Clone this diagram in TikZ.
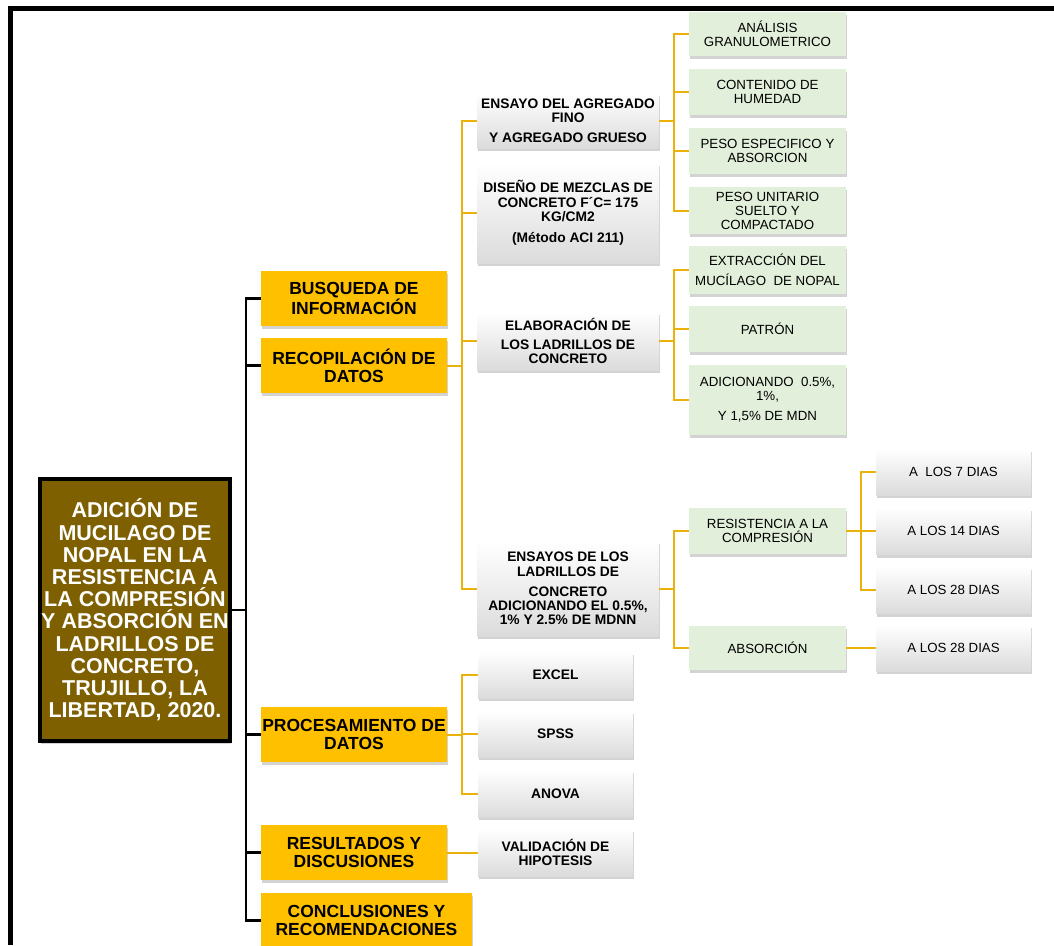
\documentclass[tikz,border=0pt]{standalone}
\usepackage{fontspec}
\setmainfont{Liberation Sans}
\usetikzlibrary{shadows}
\definecolor{naranja}{RGB}{255,192,0}
\definecolor{dorado}{RGB}{234,178,10}
\definecolor{verdeclaro}{RGB}{226,239,218}
\definecolor{cafe}{RGB}{127,96,0}
\tikzset{
  caja/.style={inner sep=1pt, align=center,
    drop shadow={shadow xshift=0.8pt, shadow yshift=-3pt, opacity=0.35}},
  raiz/.style={caja, draw=black, line width=4pt, fill=cafe, text=white,
    font=\bfseries\fontsize{21.5}{22.2}\selectfont,
    minimum width=190pt, minimum height=262pt},
  tema/.style={caja, fill=naranja, minimum width=186pt, minimum height=55pt,
    font=\bfseries\fontsize{17.5}{18.3}\selectfont},
  blanca/.style={caja, top color=white, bottom color=black!14,
    minimum width=155pt, font=\bfseries\fontsize{13.8}{14.2}\selectfont},
  ancha/.style={blanca, minimum width=182pt},
  verde/.style={caja, fill=verdeclaro, minimum width=157pt,
    font=\fontsize{13.3}{14}\selectfont},
  dia/.style={caja, top color=white, bottom color=black!14,
    minimum width=155pt, font=\fontsize{13.3}{14}\selectfont},
  negra/.style={draw=black, line width=2.5pt},
  oro/.style={draw=dorado, line width=2pt}
}
\begin{document}
\begin{tikzpicture}[x=1pt,y=-1pt]
  \useasboundingbox (0,0) rectangle (1054,945);

  % columnas de las lineas
  \coordinate (tk) at (246,0);
  \coordinate (g1) at (462,0);
  \coordinate (g2) at (674,0);
  \coordinate (g3) at (861,0);

  % titulo
  \node[raiz] (root) at (135,610) {ADICIÓN DE\\MUCILAGO DE\\NOPAL EN LA\\RESISTENCIA A\\LA COMPRESIÓN\\Y ABSORCIÓN EN\\LADRILLOS DE\\CONCRETO,\\TRUJILLO, LA\\LIBERTAD, 2020.};

  % etapas
  \node[tema] (busq) at (354,298.5) {BUSQUEDA DE\\INFORMACIÓN};
  \node[tema] (recop) at (354,365.5) {RECOPILACIÓN DE\\DATOS};
  \node[tema] (proc) at (354,734.5) {PROCESAMIENTO DE\\DATOS};
  \node[tema] (result) at (354,852.5) {RESULTADOS Y\\DISCUSIONES};
  \node[tema, minimum width=211pt] (concl) at (366.5,920.5) {CONCLUSIONES Y\\RECOMENDACIONES};

  % actividades
  \node[ancha, minimum height=55pt] (ensag) at (568,120.5) {ENSAYO DEL AGREGADO\\FINO\\[6pt]Y AGREGADO GRUESO};
  \node[ancha, minimum height=100pt] (diseno) at (568,213) {DISEÑO DE MEZCLAS DE\\CONCRETO F´C= 175\\KG/CM2\\[7pt](Método ACI 211)};
  \node[ancha, minimum height=58pt] (elab) at (568,341) {ELABORACIÓN DE\\[5pt]LOS LADRILLOS DE\\CONCRETO};
  \node[ancha, minimum height=95pt] (ensay) at (568,588.5) {ENSAYOS DE LOS\\LADRILLOS DE\\[6pt]CONCRETO\\ADICIONANDO EL 0.5\%,\\1\% Y 2.5\% DE MDNN};
  \node[blanca, minimum height=46pt] (excel) at (555.5,675) {EXCEL};
  \node[blanca, minimum height=46pt] (spss) at (555.5,734) {SPSS};
  \node[blanca, minimum height=47pt] (anova) at (555.5,793.5) {ANOVA};
  \node[blanca, minimum height=47pt] (valid) at (555.5,852.5) {VALIDACIÓN DE\\HIPOTESIS};

  % ensayos
  \node[verde, minimum height=44pt] (gran) at (767.5,34) {ANÁLISIS\\GRANULOMETRICO};
  \node[verde, minimum height=46pt] (humed) at (767.5,92) {CONTENIDO DE\\HUMEDAD};
  \node[verde, minimum height=46pt] (pesoe) at (767.5,151) {PESO ESPECIFICO Y\\ABSORCION};
  \node[verde, minimum height=47pt] (pesou) at (767.5,210.5) {PESO UNITARIO\\SUELTO Y\\COMPACTADO};
  \node[verde, minimum height=48pt] (extr) at (767.5,270) {EXTRACCIÓN DEL\\[6pt]MUCÍLAGO~~DE NOPAL};
  \node[verde, minimum height=46pt] (patron) at (767.5,329) {PATRÓN};
  \node[verde, minimum height=70pt] (adic) at (767.5,400) {ADICIONANDO~~0.5\%,\\1\%,\\[6pt]Y 1,5\% DE MDN};
  \node[verde, minimum height=46pt] (resist) at (767.5,531) {RESISTENCIA A LA\\COMPRESIÓN};
  \node[verde, minimum height=44pt] (absor) at (767.5,648) {ABSORCIÓN};

  % edades
  \node[dia, minimum height=46pt] (d7) at (953.5,472) {A~~LOS 7 DIAS};
  \node[dia, minimum height=47pt] (d14) at (953.5,531) {A LOS 14 DIAS};
  \node[dia, minimum height=47pt] (d28) at (953.5,590) {A LOS 28 DIAS};
  \node[dia, minimum height=46pt] (d28b) at (953.5,648) {A LOS 28 DIAS};

  % tronco negro
  \draw[negra] (busq.west) -- (busq.west -| tk) -- (concl.west -| tk) -- (concl.west);
  \foreach \n in {recop,proc,result}
    \draw[negra] (\n.west) -- (\n.west -| tk);
  \draw[negra] (root.east) -- (root.east -| tk);

  % ramas doradas
  \draw[oro] (recop.east) -- (recop.east -| g1);
  \draw[oro] (ensag.west) -- (ensag.west -| g1) -- (ensay.west -| g1) -- (ensay.west);
  \foreach \n in {diseno,elab}
    \draw[oro] (\n.west) -- (\n.west -| g1);

  \draw[oro] (ensag.east) -- (ensag.east -| g2);
  \draw[oro] (gran.west) -- (gran.west -| g2) -- (pesou.west -| g2) -- (pesou.west);
  \foreach \n in {humed,pesoe}
    \draw[oro] (\n.west) -- (\n.west -| g2);

  \draw[oro] (elab.east) -- (elab.east -| g2);
  \draw[oro] (extr.west) -- (extr.west -| g2) -- (adic.west -| g2) -- (adic.west);
  \draw[oro] (patron.west) -- (patron.west -| g2);

  \draw[oro] (ensay.east) -- (ensay.east -| g2);
  \draw[oro] (resist.west) -- (resist.west -| g2) -- (absor.west -| g2) -- (absor.west);

  \draw[oro] (resist.east) -- (resist.east -| g3);
  \draw[oro] (d7.west) -- (d7.west -| g3) -- (d28.west -| g3) -- (d28.west);
  \draw[oro] (d14.west) -- (d14.west -| g3);
  \draw[oro] (absor.east) -- (d28b.west);

  \draw[oro] (proc.east) -- (proc.east -| g1);
  \draw[oro] (excel.west) -- (excel.west -| g1) -- (anova.west -| g1) -- (anova.west);
  \draw[oro] (spss.west) -- (spss.west -| g1);
  \draw[oro] (result.east) -- (valid.west);

  % marco
  \draw[line width=5pt, line join=miter] (10,945) -- (10,8.5) -- (1054,8.5);
\end{tikzpicture}
\end{document}
